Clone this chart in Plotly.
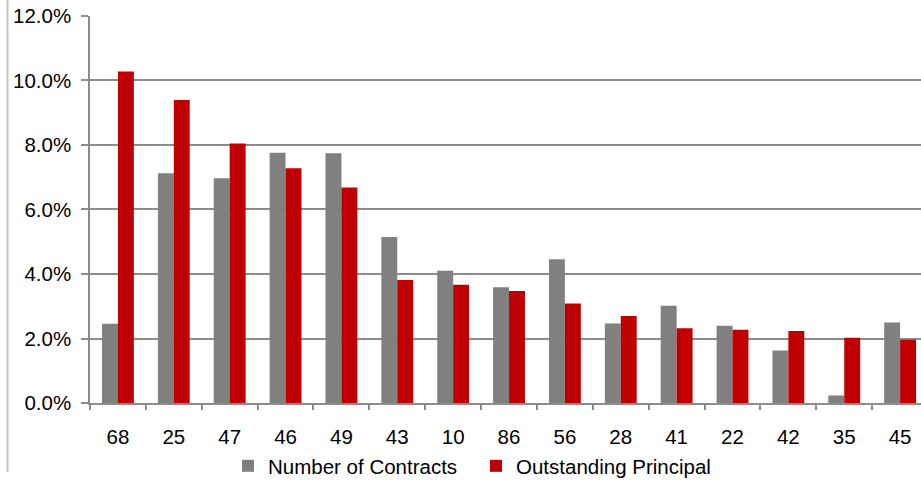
import plotly.graph_objects as go

# Category labels and the two percentage series (as fractions)
categories = ["68", "25", "47", "46", "49", "43", "10", "86", "56", "28", "41", "22", "42", "35", "45"]
num_contracts = [0.0246, 0.0712, 0.0697, 0.0776, 0.0774, 0.0515, 0.0410, 0.0359, 0.0446,
                 0.0247, 0.0302, 0.0240, 0.0163, 0.0024, 0.0250]
outstanding_principal = [0.1027, 0.0939, 0.0804, 0.0728, 0.0668, 0.0382, 0.0367, 0.0348, 0.0309,
                         0.0270, 0.0232, 0.0228, 0.0224, 0.0203, 0.0197]

W, H = 921, 486
# plot-area edges in pixels (axes placed via domains so nothing pushes the margins)
PX_L, PX_R, PX_T, PX_B = 90, 921, 16, 410
cat_px = 55.87  # width of one category slot in pixels

font_family = "Liberation Sans, Arial, sans-serif"
grid_col = "#8c8c8c"
fsize = 20.5


def px_x(px):
    return px / W


def px_y(py):
    return 1 - py / H


fig = go.Figure()
fig.add_trace(go.Bar(
    x=categories, y=num_contracts, name="Number of Contracts",
    marker=dict(color="#808080", line=dict(width=0)), legend="legend",
))
fig.add_trace(go.Bar(
    x=categories, y=outstanding_principal, name="Outstanding Principal",
    marker=dict(color="#C00000", line=dict(width=0)), legend="legend2",
))

# thin light frame line at the far left of the chart area
fig.add_shape(type="line", xref="paper", yref="paper",
              x0=px_x(7.5), x1=px_x(7.5), y0=px_y(480), y1=1,
              line=dict(color="#c4c4c4", width=2))

legend_common = dict(yanchor="middle", y=px_y(474), xanchor="left",
                     font=dict(size=fsize), itemwidth=30,
                     bgcolor="rgba(0,0,0,0)", borderwidth=0)

fig.update_layout(
    width=W, height=H,
    margin=dict(l=0, r=0, t=0, b=0, pad=0),
    paper_bgcolor="white", plot_bgcolor="white",
    barmode="group", bargap=0.43, bargroupgap=0,
    font=dict(family=font_family, size=fsize, color="#000000"),
    showlegend=True,
    legend=dict(x=px_x(268 - 40), **legend_common),
    legend2=dict(x=px_x(516 - 40), **legend_common),
    xaxis=dict(
        domain=[px_x(PX_L), px_x(PX_R)], automargin=False,
        type="category", range=[-0.5, -0.5 + (PX_R - PX_L) / cat_px],
        tickson="boundaries", ticks="outside", ticklen=5, tickwidth=1.5, tickcolor=grid_col,
        showline=True, linecolor=grid_col, linewidth=1.5,
        showgrid=False, tickfont=dict(size=fsize), ticklabelstandoff=14,
    ),
    yaxis=dict(
        domain=[px_y(PX_B), px_y(PX_T)], automargin=False,
        range=[0, 0.12], dtick=0.02, tickformat=".1%",
        ticks="outside", ticklen=7, tickwidth=1.5, tickcolor=grid_col,
        showline=True, linecolor=grid_col, linewidth=1.5,
        showgrid=True, gridcolor=grid_col, gridwidth=1.5,
        zeroline=False, tickfont=dict(size=fsize), ticklabelstandoff=6,
    ),
)

fig.write_html("out.html")
